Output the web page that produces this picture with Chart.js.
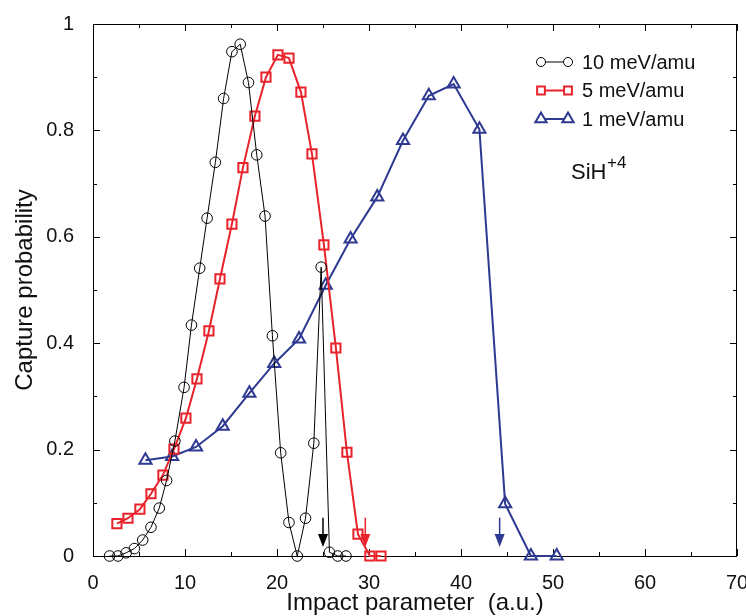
<!DOCTYPE html>
<html>
<head>
<meta charset="utf-8">
<script src="https://cdn.jsdelivr.net/npm/chart.js@4/dist/chart.umd.min.js"></script>
<style>
  body { margin: 0; background: #fff; }
</style>
</head>
<body>
<canvas id="capture-chart" width="746" height="616"></canvas>
<script>
// impact parameter (a.u.) and capture probability for each collision energy
const x_10mev = [1.8, 2.7, 3.6, 4.5, 5.4, 6.3, 7.2, 8.0, 8.9, 9.9, 10.7, 11.6, 12.4, 13.3, 14.2,
                 15.1, 16.0, 16.9, 17.8, 18.7, 19.5, 20.4, 21.3, 22.2, 23.1, 24.0, 24.8, 25.7, 26.6, 27.5];
const y_10mev = [0, 0, 0.006, 0.014, 0.03, 0.054, 0.09, 0.142, 0.216, 0.317, 0.434, 0.541, 0.635, 0.74, 0.86,
                 0.948, 0.962, 0.89, 0.754, 0.639, 0.414, 0.194, 0.063, 0, 0.071, 0.212, 0.543, 0.007, 0, 0];

const x_5mev = [2.6, 3.8, 5.1, 6.3, 7.6, 8.8, 10.1, 11.3, 12.6, 13.8, 15.1, 16.3, 17.6, 18.8, 20.1,
                21.3, 22.6, 23.8, 25.1, 26.4, 27.6, 28.8, 30.1, 31.3];
const y_5mev = [0.061, 0.071, 0.088, 0.117, 0.152, 0.201, 0.259, 0.333, 0.423, 0.521, 0.624, 0.73, 0.827, 0.9, 0.942,
                0.936, 0.872, 0.756, 0.585, 0.391, 0.195, 0.041, 0, 0];

const x_1mev = [5.7, 8.6, 11.2, 14.1, 17.0, 19.7, 22.4, 25.3, 28.0, 30.9, 33.7, 36.5, 39.2, 42.0, 44.8, 47.6, 50.4];
const y_1mev = [0.18, 0.187, 0.205, 0.244, 0.306, 0.362, 0.408, 0.509, 0.596, 0.675, 0.781, 0.865, 0.887, 0.802, 0.098, 0, 0];

const series_labels = ['10 meV/amu', '5 meV/amu', '1 meV/amu'];
// arrows marking the cut-off impact parameter of each series
const arrow_x = [25.0, 29.6, 44.2];
const arrow_y = [0.072, 0.017];

const x_ticks = [0, 10, 20, 30, 40, 50, 60, 70];
const y_ticks = [0, 0.2, 0.4, 0.6, 0.8, 1];

const FONT = '"Liberation Sans", Arial, Helvetica, sans-serif';
const RED = '#e8232b';
const BLUE = '#2e3991';

function pts(xs, ys) {
  return xs.map((x, i) => ({ x: x, y: ys[i] }));
}

function marker(ctx, style, x, y, r) {
  ctx.beginPath();
  if (style === 'circle') {
    ctx.arc(x, y, r, 0, Math.PI * 2);
  } else if (style === 'rect') {
    const s = r * Math.SQRT1_2;
    ctx.rect(x - s, y - s, 2 * s, 2 * s);
  } else {
    for (let k = 0; k < 3; k++) {
      const a = k * 2 * Math.PI / 3;
      const px = x + Math.sin(a) * r, py = y - Math.cos(a) * r;
      if (k === 0) ctx.moveTo(px, py); else ctx.lineTo(px, py);
    }
    ctx.closePath();
  }
  ctx.fill();
  ctx.stroke();
}

const framePlugin = {
  id: 'frame',
  beforeDatasetsDraw(chart) {
    const { ctx, chartArea: a, scales: { x, y } } = chart;
    ctx.save();
    ctx.strokeStyle = '#000';
    ctx.lineWidth = 1;
    ctx.strokeRect(a.left + 0.5, a.top + 0.5, a.right - a.left - 1, a.bottom - a.top);
    ctx.beginPath();
    for (let v = 0; v <= 70; v += 5) {
      const p = Math.round(x.getPixelForValue(v)) + 0.5;
      const len = v % 10 === 0 ? 7 : 4;
      ctx.moveTo(p, a.bottom); ctx.lineTo(p, a.bottom - len);
      ctx.moveTo(p, a.top); ctx.lineTo(p, a.top + len);
    }
    for (let k = 0; k <= 10; k++) {
      const p = Math.round(y.getPixelForValue(k / 10)) + 0.5;
      const len = k % 2 === 0 ? 7 : 4;
      ctx.moveTo(a.left, p); ctx.lineTo(a.left + len, p);
      ctx.moveTo(a.right, p); ctx.lineTo(a.right - len, p);
    }
    ctx.stroke();
    ctx.restore();
  },
  afterDraw(chart) {
    const { ctx, scales: { x, y } } = chart;
    ctx.save();
    // arrows
    chart.data.datasets.forEach((ds, i) => {
      const px = x.getPixelForValue(arrow_x[i]);
      const top = y.getPixelForValue(arrow_y[0]);
      const tip = y.getPixelForValue(arrow_y[1]);
      ctx.strokeStyle = ds.borderColor;
      ctx.fillStyle = ds.borderColor;
      ctx.lineWidth = 1.5;
      ctx.beginPath();
      ctx.moveTo(px, top); ctx.lineTo(px, tip - 10);
      ctx.stroke();
      ctx.beginPath();
      ctx.moveTo(px - 5, tip - 13); ctx.lineTo(px + 5, tip - 13); ctx.lineTo(px, tip);
      ctx.closePath();
      ctx.fill();
    });
    // legend
    const legendR = { circle: 4.5, rect: 5.5, triangle: 6.5 };
    chart.data.datasets.forEach((ds, i) => {
      const ly = 62 + i * 28.5;
      ctx.strokeStyle = ds.borderColor;
      ctx.lineWidth = ds.borderWidth;
      ctx.beginPath();
      ctx.moveTo(541, ly); ctx.lineTo(568, ly);
      ctx.stroke();
      ctx.fillStyle = '#fff';
      ctx.lineWidth = ds.pointBorderWidth;
      marker(ctx, ds.pointStyle, 541, ly, legendR[ds.pointStyle]);
      marker(ctx, ds.pointStyle, 568, ly, legendR[ds.pointStyle]);
      ctx.fillStyle = '#111';
      ctx.font = '20px ' + FONT;
      ctx.textAlign = 'left';
      ctx.textBaseline = 'middle';
      ctx.fillText(ds.label, 582, ly + 1);
    });
    // molecule label
    ctx.fillStyle = '#111';
    ctx.textBaseline = 'alphabetic';
    ctx.font = '22px ' + FONT;
    ctx.fillText('SiH', 571, 179);
    ctx.font = '17px ' + FONT;
    ctx.fillText('+4', 607, 168);
    ctx.restore();
  }
};

new Chart(document.getElementById('capture-chart'), {
  type: 'scatter',
  data: {
    datasets: [
      {
        label: series_labels[0],
        data: pts(x_10mev, y_10mev),
        showLine: true,
        borderColor: '#000',
        borderWidth: 1,
        pointStyle: 'circle',
        pointRadius: 5.3,
        pointBorderWidth: 1,
        pointBackgroundColor: 'rgba(255,255,255,0)',
        pointBorderColor: '#000',
        clip: false,
        order: 1
      },
      {
        label: series_labels[1],
        data: pts(x_5mev, y_5mev),
        showLine: true,
        borderColor: RED,
        borderWidth: 2,
        pointStyle: 'rect',
        pointRadius: 6.5,
        pointBorderWidth: 2,
        pointBackgroundColor: 'rgba(255,255,255,0)',
        pointBorderColor: RED,
        clip: false,
        order: 2
      },
      {
        label: series_labels[2],
        data: pts(x_1mev, y_1mev),
        showLine: true,
        borderColor: BLUE,
        borderWidth: 2,
        pointStyle: 'triangle',
        pointRadius: 7,
        pointBorderWidth: 2,
        pointBackgroundColor: 'rgba(255,255,255,0)',
        pointBorderColor: BLUE,
        clip: false,
        order: 3
      }
    ]
  },
  options: {
    responsive: false,
    animation: false,
    layout: { padding: { top: 24, right: 9, left: 0, bottom: 0 } },
    plugins: {
      legend: { display: false },
      tooltip: { enabled: false }
    },
    scales: {
      x: {
        type: 'linear',
        min: 0,
        max: 70,
        afterFit: s => { s.height = 60; s.paddingLeft = 0; s.paddingRight = 0; },
        afterBuildTicks: s => { s.ticks = x_ticks.map(v => ({ value: v })); },
        ticks: { color: '#111', font: { family: FONT, size: 20 }, padding: 7, maxRotation: 0,
                 callback: v => String(v) },
        grid: { display: false },
        border: { display: false },
        title: {
          display: true,
          text: 'Impact parameter  (a.u.)',
          color: '#111',
          font: { family: FONT, size: 24 },
          padding: { top: 0, bottom: -2 }
        }
      },
      y: {
        type: 'linear',
        min: 0,
        max: 1,
        afterFit: s => { s.width = 93; s.paddingTop = 0; s.paddingBottom = 0; },
        afterBuildTicks: s => { s.ticks = y_ticks.map(v => ({ value: v })); },
        ticks: { color: '#111', font: { family: FONT, size: 20 }, padding: 11,
                 callback: v => String(v) },
        grid: { display: false },
        border: { display: false },
        title: {
          display: true,
          text: 'Capture probability',
          color: '#111',
          font: { family: FONT, size: 24 },
          padding: { top: 11, bottom: 0 }
        }
      }
    }
  },
  plugins: [framePlugin]
});
</script>
</body>
</html>
